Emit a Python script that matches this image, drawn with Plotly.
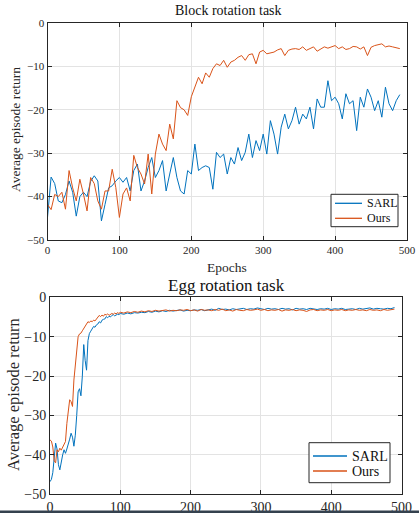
import plotly.graph_objects as go

W, H = 419, 513

# ---------------- data ----------------
block_epochs = list(range(0, 491, 5))
block_sarl = [
    -44.8, -35.5, -37.0, -41.0, -41.4, -39.5, -36.4, -39.0, -44.5, -40.0,
    -39.0, -40.0, -36.5, -35.2, -36.4, -45.6, -41.8, -38.0, -37.5, -36.4,
    -35.6, -36.7, -35.6, -38.7, -34.0, -32.5, -38.7, -36.4, -33.3, -31.0,
    -35.6, -34.0, -31.7, -38.7, -34.8, -31.0, -35.6, -38.7, -39.4, -34.0,
    -34.8, -27.9, -34.0, -33.3, -32.9, -33.3, -38.3, -29.8, -31.0, -30.2,
    -34.8, -31.0, -32.5, -28.7, -31.7, -29.8, -25.6, -31.0, -27.1, -29.4,
    -25.6, -30.2, -22.5, -25.6, -30.2, -24.0, -21.0, -24.4, -22.5, -19.4,
    -23.3, -21.0, -22.1, -19.4, -24.4, -17.5, -19.4, -19.4, -13.3, -17.9,
    -17.1, -18.6, -22.1, -16.3, -18.6, -17.9, -24.8, -17.1, -19.4, -15.2,
    -17.1, -20.2, -17.9, -21.7, -14.8, -18.6, -20.2, -17.9, -16.5,
]
block_ours = [
    -41.8, -43.0, -39.5, -40.0, -39.0, -42.9, -34.0, -38.0, -41.0, -36.0,
    -39.4, -43.3, -35.6, -37.0, -41.0, -42.9, -38.7, -38.7, -33.7, -37.9,
    -44.8, -39.4, -38.0, -41.0, -30.5, -33.3, -34.8, -37.1, -30.2, -39.4,
    -30.2, -25.6, -27.9, -29.4, -23.3, -26.7, -17.9, -19.5, -20.0, -21.3,
    -17.0, -14.5, -12.5, -14.0, -11.5, -12.5, -10.5, -9.4, -9.8, -8.6,
    -10.2, -9.0, -8.6, -7.9, -7.5, -8.6, -7.3, -7.1, -9.4, -6.7,
    -6.3, -7.1, -6.9, -6.7, -6.2, -5.9, -7.5, -6.3, -6.0, -5.9,
    -6.1, -5.5, -6.3, -5.8, -5.5, -6.5, -5.9, -5.5, -5.8, -5.5,
    -5.2, -5.9, -5.5, -6.1, -5.9, -5.4, -5.5, -6.0, -5.5, -7.5,
    -5.6, -5.2, -5.0, -4.8, -5.5, -5.3, -5.5, -5.7, -5.9,
]

egg_epochs = list(range(0, 101, 2)) + list(range(105, 491, 5))
egg_sarl = [
    -46.8, -46.2, -44.5, -40.5, -37.0, -38.5, -42.5, -43.8, -41.5, -40.0,
    -38.7, -39.6, -38.5, -37.5, -36.0, -34.5, -35.5, -37.8, -35.0, -30.0,
    -24.0, -23.2, -25.0, -20.0, -12.0, -16.0, -18.5, -11.0, -9.2, -8.6,
    -8.0, -7.4, -7.6, -7.0, -6.8, -6.2, -6.5, -5.8, -5.6, -5.5,
    -4.9, -5.2, -4.8, -5.0, -4.6, -4.4, -4.7, -4.5, -4.3, -4.4,
    -4.1,
    -4.3, -4.0, -4.2, -3.9, -4.0, -3.8, -3.9, -3.6, -3.8, -3.5,
    -3.7, -3.4, -3.6, -3.3, -3.5, -3.4, -3.2, -3.5, -3.3, -3.4,
    -3.2, -3.3, -3.1, -3.4, -3.2, -3.0, -3.3, -2.8, -3.1, -3.0,
    -3.2, -2.9, -3.1, -3.0, -2.8, -3.1, -2.9, -3.0, -2.7, -2.9,
    -3.1, -2.8, -3.0, -2.9, -3.1, -2.8, -3.0, -2.9, -3.2, -2.8,
    -3.0, -2.9, -3.1, -2.8, -3.0, -3.1, -2.9, -3.0, -2.8, -3.1,
    -2.9, -3.0, -2.8, -3.1, -3.0, -2.9, -3.1, -2.8, -3.0, -2.9,
    -2.7, -3.0, -2.8, -2.9, -3.0, -2.8, -2.9, -2.6,
]
egg_ours = [
    -36.2, -36.5, -38.0, -41.5, -42.0, -38.7, -39.2, -38.3, -38.8, -37.9,
    -37.5, -36.6, -32.0, -29.0, -26.0, -26.5, -27.7, -21.0, -17.0, -14.5,
    -10.0, -9.3, -9.1, -8.5, -8.0, -7.4, -7.0, -6.2, -6.4, -6.0,
    -6.2, -5.8, -6.0, -5.5, -5.2, -4.6, -4.9, -4.5, -4.8, -4.3,
    -4.5, -4.2, -4.6, -4.4, -4.1, -4.3, -4.0, -4.2, -3.9, -4.1,
    -3.8,
    -4.0, -3.7, -3.9, -3.6, -3.8, -3.5, -3.7, -3.4, -3.6, -3.3,
    -3.5, -3.4, -3.2, -3.5, -3.3, -3.4, -3.2, -3.3, -3.1, -3.4,
    -3.2, -3.5, -3.1, -3.3, -3.2, -3.4, -3.1, -3.3, -3.0, -3.4,
    -3.2, -3.5, -3.1, -3.3, -3.4, -3.1, -3.3, -3.2, -3.0, -3.3,
    -3.1, -3.4, -3.2, -3.3, -3.1, -3.5, -3.2, -3.3, -3.1, -3.4,
    -3.2, -3.3, -3.6, -3.2, -3.1, -3.4, -3.2, -3.3, -3.1, -3.4,
    -3.2, -3.3, -3.1, -3.4, -3.2, -3.3, -3.1, -3.3, -3.2, -3.4,
    -3.1, -3.3, -3.2, -3.4, -3.1, -3.3, -3.2, -3.0,
]

x_ticks = [0, 100, 200, 300, 400, 500]
y_ticks = [0, -10, -20, -30, -40, -50]
series_names = ["SARL", "Ours"]
colors = ["#0072BD", "#D95319"]

assert len(block_epochs) == len(block_sarl) == len(block_ours)
assert len(egg_epochs) == len(egg_sarl) == len(egg_ours)

FONT = "Liberation Serif"


def px(x):
    return x / W


def py(y):
    return 1 - y / H


fig = go.Figure()

for name, col, ys in zip(series_names, colors, [block_sarl, block_ours]):
    fig.add_trace(go.Scatter(x=block_epochs, y=ys, mode="lines", name=name,
                             line=dict(color=col, width=1), xaxis="x", yaxis="y",
                             showlegend=False))
for name, col, ys in zip(series_names, colors, [egg_sarl, egg_ours]):
    fig.add_trace(go.Scatter(x=egg_epochs, y=ys, mode="lines", name=name,
                             line=dict(color=col, width=1), xaxis="x2", yaxis="y2",
                             showlegend=False))

axis_common = dict(
    showline=True, linecolor="#262626", linewidth=1, mirror="ticks",
    ticks="inside", ticklen=4, tickcolor="#262626", automargin=False,
    showgrid=True, gridcolor="#e3e3e3", gridwidth=1, zeroline=False,
)

fig.update_layout(
    width=W, height=H,
    margin=dict(l=0, r=0, t=0, b=0, autoexpand=False),
    paper_bgcolor="white", plot_bgcolor="white",
    font=dict(family=FONT, color="#262626"),
    xaxis=dict(domain=[px(47.5), px(407)], range=[0, 500], tickvals=x_ticks,
               anchor="y", tickfont=dict(size=11, family=FONT), **axis_common),
    yaxis=dict(domain=[py(240), py(23)], range=[-50, 0], tickvals=y_ticks,
               anchor="x", tickfont=dict(size=11, family=FONT), **axis_common),
    xaxis2=dict(domain=[px(50), px(401.5)], range=[0, 500], tickvals=x_ticks,
                anchor="y2", tickfont=dict(size=14, family=FONT), **axis_common),
    yaxis2=dict(domain=[py(494.3), py(297.3)], range=[-50, 0], tickvals=y_ticks,
                anchor="x2", tickfont=dict(size=14, family=FONT), **axis_common),
    showlegend=False,
)

annotations = [
    dict(text="Block rotation task", x=px(228), y=py(11), font=dict(size=14, color="#111111")),
    dict(text="Epochs", x=px(227), y=py(267), font=dict(size=13.5, color="#262626")),
    dict(text="Average episode return", x=px(15), y=py(130), textangle=-90,
         font=dict(size=13.5, color="#262626")),
    dict(text="Egg rotation task", x=px(226), y=py(285), font=dict(size=17, color="#111111")),
    dict(text="Average episode return", x=px(13), y=py(395), textangle=-90,
         font=dict(size=16.5, color="#262626")),
]
for a in annotations:
    a.update(xanchor="center")

shapes = []

# legends drawn as boxes with sample lines and labels
legend_specs = [
    dict(box=(331, 398, 194.3, 226.7), lx=(335, 362), rows=(203.3, 218.3), tx=365, fs=12),
    dict(box=(309, 390, 442.7, 482.7), lx=(313, 347), rows=(456, 471), tx=350, fs=14),
]
for spec in legend_specs:
    bx0, bx1, by0, by1 = spec["box"]
    shapes.append(dict(type="rect", xref="paper", yref="paper",
                       x0=px(bx0), x1=px(bx1), y0=py(by1), y1=py(by0),
                       fillcolor="white", line=dict(color="#262626", width=1),
                       layer="above"))
    for name, col, ry in zip(series_names, colors, spec["rows"]):
        shapes.append(dict(type="line", xref="paper", yref="paper",
                           x0=px(spec["lx"][0]), x1=px(spec["lx"][1]),
                           y0=py(ry), y1=py(ry), line=dict(color=col, width=1.3),
                           layer="above"))
        annotations.append(dict(text=name, x=px(spec["tx"]), y=py(ry),
                                xanchor="left", font=dict(size=spec["fs"], color="#111111")))

# dark strip at the very bottom of the picture
shapes.append(dict(type="rect", xref="paper", yref="paper", x0=0, x1=1,
                   y0=0, y1=py(510.5), fillcolor="#34414e", line=dict(width=0),
                   layer="above"))

for a in annotations:
    a.update(xref="paper", yref="paper", showarrow=False, yanchor="middle")
    a["font"]["family"] = FONT

fig.update_layout(annotations=annotations, shapes=shapes)

fig.write_html(
    "out.html",
    config={"displayModeBar": False, "staticPlot": True},
    post_script="document.body.style.margin='0';document.body.style.padding='0';"
                "document.body.style.overflow='hidden';",
)
